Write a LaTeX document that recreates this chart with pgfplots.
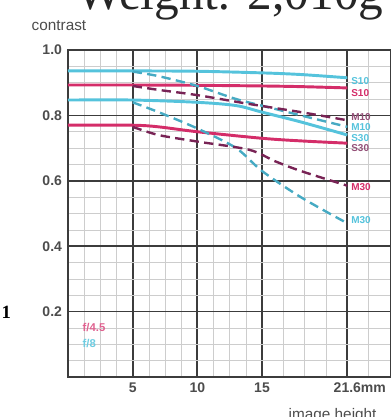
\documentclass[border=0pt]{standalone}
\usepackage{pgfplots}
\pgfplotsset{compat=1.18}
\usepackage{fontspec}
\setmainfont{Liberation Sans}
\newfontfamily\seriffont{Liberation Serif}
\definecolor{cy}{RGB}{85,195,220}
\definecolor{mg}{RGB}{212,45,105}
\definecolor{mgd}{RGB}{120,35,85}
\definecolor{cyd}{RGB}{70,170,195}
\definecolor{gridmaj}{RGB}{60,60,60}
\definecolor{gridmin}{RGB}{205,205,205}
\begin{document}
\begin{tikzpicture}
\useasboundingbox (0,0) rectangle (292.5pt,-312.75pt);
\begin{axis}[
  at={(51pt,-282.75pt)}, anchor=origin,
  x=9.7pt, y=245.25pt,
  xmin=0, xmax=25, ymin=0, ymax=1,
  axis line style={gridmaj, line width=1.6pt},
  xtick={5,10,15,21.6},
  xticklabels={5,10,15,21.6\rlap{mm}},
  ytick={0.2,0.4,0.6,0.8,1.0},
  yticklabel style={xshift=-1pt, /pgf/number format/.cd,fixed,fixed zerofill,precision=1},
  minor xtick={1.25,2.5,3.75,6.25,7.5,8.75,11.25,12.5,13.75,16.65,18.3,19.95,23.25},
  minor ytick={0.05,0.1,0.15,0.25,0.3,0.35,0.45,0.5,0.55,0.65,0.7,0.75,0.85,0.9,0.95},
  grid=both,
  major grid style={gridmaj, line width=1.3pt},
  minor grid style={gridmin, line width=0.45pt},
  major tick length=0pt, minor tick length=0pt,
  tick label style={font=\fontsize{10.5}{11}\selectfont\bfseries, text=black!70},
  /pgf/number format/assume math mode=true,
  xticklabel style={yshift=-1pt},
  clip=false,
]
% f/8 S10
\addplot[cy, line width=2.2pt, smooth] coordinates {(0,0.936)(5,0.936)(10,0.935)(15,0.93)(18,0.925)(21.6,0.915)};
% f/4.5 S10
\addplot[mg, line width=2.2pt, smooth] coordinates {(0,0.893)(5,0.893)(10,0.892)(15,0.89)(18,0.888)(21.6,0.884)};
% f/8 S30
\addplot[cy, line width=2.2pt, smooth] coordinates {(0,0.847)(5,0.847)(10,0.84)(13,0.83)(15,0.81)(18,0.78)(21.6,0.74)};
% f/4.5 S30
\addplot[mg, line width=2.2pt, smooth] coordinates {(0,0.77)(5,0.77)(7,0.765)(10,0.75)(15,0.73)(18,0.722)(21.6,0.715)};
% f/8 M10
\addplot[cyd, line width=1.8pt, dash pattern=on 7pt off 4pt, smooth] coordinates {(5,0.934)(7,0.92)(10,0.89)(13,0.85)(16,0.82)(18,0.80)(21.6,0.765)};
% f/4.5 M10
\addplot[mgd, line width=1.8pt, dash pattern=on 7pt off 4pt, smooth] coordinates {(5,0.89)(7,0.878)(10,0.862)(14,0.835)(18,0.81)(21.6,0.785)};
% f/8 M30
\addplot[cyd, line width=1.8pt, dash pattern=on 7pt off 4pt, smooth] coordinates {(5,0.84)(7,0.81)(10,0.76)(13,0.70)(15,0.63)(18,0.55)(21.6,0.47)};
% f/4.5 M30
\addplot[mgd, line width=1.8pt, dash pattern=on 7pt off 4pt, smooth] coordinates {(5,0.765)(7,0.74)(10,0.72)(14,0.695)(16,0.66)(18,0.63)(21.6,0.585)};
\end{axis}
\begin{scope}[x=0.75pt,y=-0.75pt]
\node[anchor=base, font=\seriffont\fontsize{37}{37}\selectfont, text=black!85] at (230,10) {Weight: 2,010g};
\node[anchor=base west, font=\fontsize{11.5}{12}\selectfont, text=black!70] at (27,31) {contrast};
\node[anchor=base west, font=\fontsize{11.5}{12}\selectfont, text=black!70] at (284,419) {image height};
\node[anchor=base west, font=\seriffont\bfseries\fontsize{14}{14}\selectfont] at (-3,318) {1};
\node[anchor=base west, font=\fontsize{8.5}{9}\selectfont\bfseries, text=mg!75] at (78,331) {f/4.5};
\node[anchor=base west, font=\fontsize{8.5}{9}\selectfont\bfseries, text=cy!85] at (78,347) {f/8};
\begin{scope}[every node/.style={anchor=west, inner sep=0pt, font=\fontsize{7.5}{8}\selectfont\bfseries}]
\node[text=cy] at (351,81) {S10};
\node[text=mg] at (351,93) {S10};
\node[text=mgd!80] at (351,117) {M10};
\node[text=cy] at (351,127) {M10};
\node[text=cy] at (351,138) {S30};
\node[text=mgd!80] at (351,148) {S30};
\node[text=mg] at (351,187) {M30};
\node[text=cy] at (351,220) {M30};
\end{scope}
\end{scope}
\end{tikzpicture}
\end{document}
